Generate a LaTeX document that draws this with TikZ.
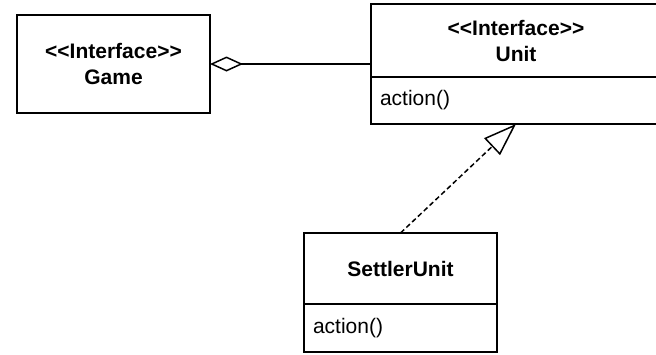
\documentclass[tikz,border=0pt]{standalone}
\usepackage{fontspec}
\setmainfont{Liberation Sans}
\usepackage{tikz}
\usetikzlibrary{arrows.meta,positioning}
\newcommand{\stereo}[1]{<{}<#1>{}>}
\newcommand{\aggr}{{Diamond[open,length=33pt,width=15pt]}-}
\newcommand{\real}{-{Triangle[open,length=33pt,width=23pt]}}

\begin{document}
\begin{tikzpicture}[x=1pt,y=-1pt,line width=1.5pt,
  font=\fontsize{21}{26}\selectfont,
  cls/.style={draw,outer sep=0pt,inner sep=0pt,align=center},
  ops/.style={draw,outer sep=0pt,inner xsep=9pt,inner ysep=0pt,align=left}]
\useasboundingbox (0,0) rectangle (656,354);
%classes
\node[cls,minimum width=193,minimum height=98] (game) at (113.5,64)
  {\textbf{\stereo{Interface}}\\\textbf{Game}};
\node[cls,minimum width=290,minimum height=73] (unit) at (516,40.5)
  {\textbf{\stereo{Interface}}\\\textbf{Unit}};
\node[ops,text width=272,minimum height=47,below=0pt of unit] (unitops) {action()};
\node[cls,minimum width=193,minimum height=71] (settler) at (400.5,268.5)
  {\textbf{SettlerUnit}};
\node[ops,text width=175,minimum height=48,below=0pt of settler] (settlerops) {action()};
%relations
\draw[\aggr] (game.east) -- (game.east -| unit.west);
\draw[dash pattern=on 5pt off 3pt,\real] (settler.north) -- (unitops.south);
\end{tikzpicture}
\end{document}
